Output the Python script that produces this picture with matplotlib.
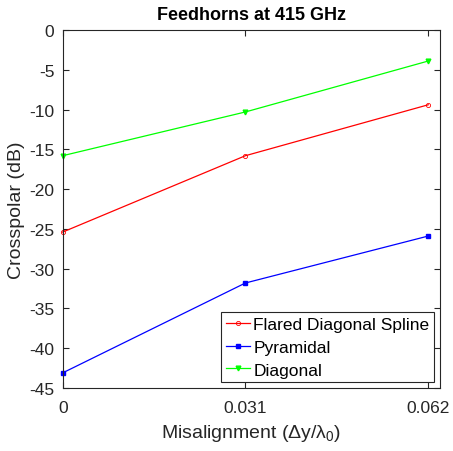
import matplotlib
matplotlib.use("Agg")
import matplotlib.pyplot as plt

plt.rcParams['font.family'] = ['Liberation Sans', 'DejaVu Sans']
plt.rcParams['mathtext.fontset'] = 'custom'
plt.rcParams['mathtext.rm'] = 'Liberation Sans'
plt.rcParams['mathtext.it'] = 'Liberation Sans'

x = [0, 0.031, 0.062]
xticklabels = ["0", "0.031", "0.062"]
flared = [-25.4, -15.8, -9.4]
pyramidal = [-43.1, -31.8, -25.9]
diagonal = [-15.8, -10.3, -3.9]

fig = plt.figure(figsize=(4.53, 4.52), dpi=100)
ax = fig.add_axes([0.1384, 0.1394, 0.8329, 0.792])

ax.plot(x, flared, color='#ff0000', lw=0.9, marker='o', ms=3, mfc='none', mew=0.6,
        label='Flared Diagonal Spline', clip_on=False)
ax.plot(x, pyramidal, color='#0000ff', lw=0.9, marker='s', ms=2.4,
        label='Pyramidal', clip_on=False)
ax.plot(x, diagonal, color='#00ff00', lw=0.9, marker='v', ms=3.4,
        label='Diagonal', clip_on=False)

ax.set_xlim(0, 0.064)
ax.set_ylim(-45, 0)
ax.set_xticks(x)
ax.set_xticklabels(xticklabels)
ax.set_yticks(range(-45, 1, 5))
ax.set_yticklabels([str(v) for v in range(-45, 1, 5)])
ax.tick_params(direction='in', top=True, right=True, labelsize=12.5, length=4,
               color='#262626', labelcolor='#262626', pad=6)
ax.tick_params(axis='x', pad=9)
for s in ax.spines.values():
    s.set_color('#262626')
    s.set_linewidth(0.8)

ax.set_title('Feedhorns at 415 GHz', fontsize=13, fontweight='bold', pad=8)
ax.set_xlabel(r'Misalignment ($\Delta$y/$\lambda_0$)', fontsize=14, color='#262626', labelpad=5)
ax.set_ylabel('Crosspolar (dB)', fontsize=14, color='#262626', labelpad=3)

leg = ax.legend(loc='lower right', fontsize=12.5, fancybox=False, framealpha=1,
                edgecolor='#262626', borderpad=0.25, handlelength=1.4,
                handletextpad=0.2, labelspacing=0.45, borderaxespad=0.35)
leg.get_frame().set_linewidth(0.8)

fig.savefig("out.png", dpi=100)
